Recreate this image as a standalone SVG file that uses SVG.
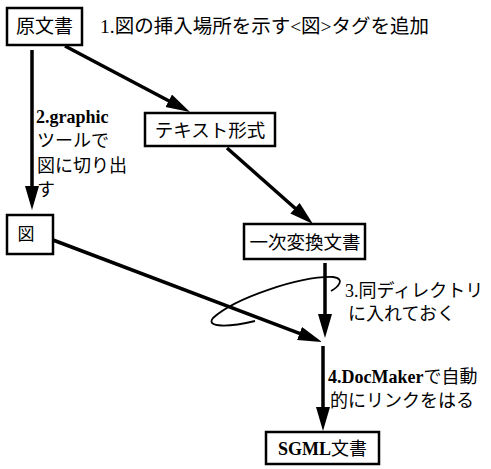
<svg xmlns="http://www.w3.org/2000/svg" width="491" height="469" viewBox="0 0 491 469">
<style>
.box{fill:#fff;stroke:#000;stroke-width:2.5}
.t{font-family:"Liberation Serif","Noto Sans CJK JP",serif;fill:#000}
.b{font-weight:bold}
.ln{stroke:#000;stroke-width:3.5;fill:none}
</style>
<defs>
<marker id="ah" markerUnits="userSpaceOnUse" markerWidth="26" markerHeight="16" refX="2" refY="7" orient="auto">
<path d="M0,0 L24,7 L0,14 z" fill="#000"/>
</marker>
</defs>
<g id="connectors">
<line class="ln" x1="65" y1="46" x2="170.5" y2="101.7" marker-end="url(#ah)"/>
<line class="ln" x1="32" y1="50" x2="32" y2="188" marker-end="url(#ah)"/>
<line class="ln" x1="227" y1="148" x2="296.5" y2="209.5" marker-end="url(#ah)"/>
<line class="ln" x1="53" y1="240" x2="301.4" y2="334.2" marker-end="url(#ah)"/>
<line class="ln" x1="325" y1="263" x2="325" y2="316" marker-end="url(#ah)"/>
<line class="ln" x1="323" y1="346" x2="323" y2="409" marker-end="url(#ah)"/>
<path d="M331,291 C338,287 346,279 333,277 C300,276 235,298 213,318 C205,328 230,327 255,321" fill="none" stroke="#000" stroke-width="1.8"/>
</g>
<g id="n1">
<rect class="box" x="7" y="8" width="75" height="37"/>
<text class="t" x="44.5" y="33" font-size="19" text-anchor="middle">原文書</text>
</g>
<g id="n2">
<rect class="box" x="145" y="113" width="130" height="33"/>
<text class="t" x="210" y="137" font-size="18.5" text-anchor="middle">テキスト形式</text>
</g>
<g id="n3">
<rect class="box" x="7" y="215" width="46" height="39"/>
<text class="t" x="26" y="240" font-size="17" text-anchor="middle">図</text>
</g>
<g id="n4">
<rect class="box" x="244" y="224" width="121" height="35"/>
<text class="t" x="305" y="249" font-size="18.5" text-anchor="middle">一次変換文書</text>
</g>
<g id="n5">
<rect class="box" x="266" y="432" width="113" height="32"/>
<text class="t" x="322.5" y="455" font-size="18" text-anchor="middle"><tspan class="b">SGML</tspan>文書</text>
</g>
<g id="labels">
<text class="t" x="100" y="33" font-size="19.5">1.図の挿入場所を示す&lt;図&gt;タグを追加</text>
<text class="t b" x="36" y="123" font-size="18">2.graphic</text>
<text class="t" x="37" y="147" font-size="18">ツールで</text>
<text class="t" x="37" y="172" font-size="18">図に切り出</text>
<text class="t" x="37" y="196" font-size="18">す</text>
<text class="t" x="345" y="297" font-size="18">3.同ディレクトリ</text>
<text class="t" x="348" y="320" font-size="18">に入れておく</text>
<text class="t" x="328" y="383" font-size="18"><tspan class="b">4.DocMaker</tspan>で自動</text>
<text class="t" x="330" y="407" font-size="18">的にリンクをはる</text>
</g>
</svg>
